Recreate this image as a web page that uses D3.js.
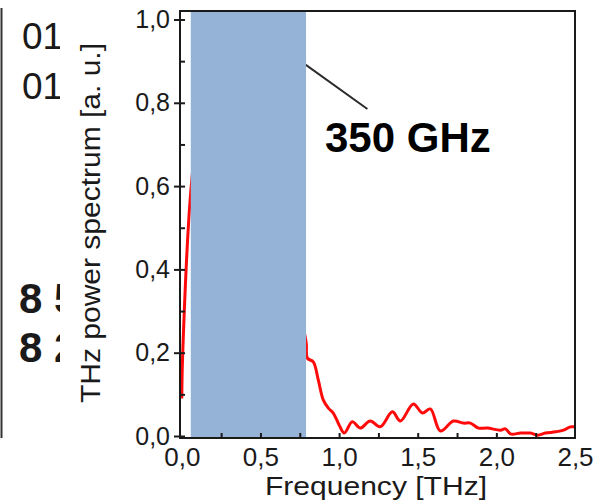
<!DOCTYPE html>
<html lang="en">

<head>
    <meta charset="UTF-8">
    <title>THz power spectrum</title>
    <script src="https://d3js.org/d3.v7.min.js"></script>
    <style>
        body { margin: 0; background: #fff; }
        svg text { font-family: "Liberation Sans", Arial, sans-serif; fill: #1a1a1a; }
        .axis path { display: none; }
        .axis line { stroke: #1a1a1a; stroke-width: 2px; }
    </style>
</head>

<body>
    <script>
        // spectrum (part under the blue band is a guess, it is hidden)
        var freq = [0.0, 0.005, 0.06, 0.12, 0.2, 0.35, 0.5, 0.65, 0.75, 0.791, 0.798, 0.836, 0.868, 0.9, 0.932,
            0.963, 1.001, 1.033, 1.084, 1.135, 1.198, 1.262, 1.339, 1.39, 1.472, 1.53, 1.58, 1.644,
            1.727, 1.791, 1.835, 1.886, 1.943, 2.026, 2.058, 2.09, 2.154, 2.217, 2.262, 2.312, 2.376,
            2.427, 2.471, 2.5];
        var power = [0.09, 0.19, 0.6, 0.78, 0.9, 1.0, 0.82, 0.5, 0.3, 0.223, 0.187, 0.178, 0.134, 0.086, 0.067,
            0.055, 0.026, 0.007, 0.034, 0.019, 0.036, 0.022, 0.058, 0.036, 0.077, 0.055, 0.065, 0.012,
            0.036, 0.031, 0.031, 0.019, 0.019, 0.014, 0.017, 0.005, 0.007, 0.007, 0.002, 0.007, 0.01,
            0.014, 0.022, 0.022];

        var xTicks = [0, 0.5, 1.0, 1.5, 2.0, 2.5];
        var xTickLabels = ["0,0", "0,5", "1,0", "1,5", "2,0", "2,5"];
        var xMinor = [0.25, 0.75, 1.25, 1.75, 2.25];
        var yTicks = [0, 0.2, 0.4, 0.6, 0.8, 1.0];
        var yTickLabels = ["0,0", "0,2", "0,4", "0,6", "0,8", "1,0"];
        var yMinor = [0.1, 0.3, 0.5, 0.7, 0.9];

        // shaded band and the 350 GHz pointer
        var band = [0.057, 0.79];
        var pointer = [[0.7, 0.915], [1.18, 0.785]];

        var W = 606, H = 504;
        var svg = d3.select("body").append("svg")
            .attr("width", W)
            .attr("height", H);

        var x = d3.scaleLinear().domain([-0.0115, 2.5]).range([180, 575]);
        var y = d3.scaleLinear().domain([-0.0048, 1.0204]).range([438, 11]);

        // cropped neighbour panel on the left
        svg.append("clipPath").attr("id", "leftclip")
            .append("rect").attr("x", 0).attr("y", 0).attr("width", 60).attr("height", H);
        var left = svg.append("g").attr("clip-path", "url(#leftclip)");
        left.append("line")
            .attr("x1", 1.5).attr("x2", 1.5).attr("y1", 8).attr("y2", 438)
            .attr("stroke", "#333").attr("stroke-width", 2);
        left.append("text").attr("x", 22).attr("y", 49).style("font-size", "37px").text("01");
        left.append("text").attr("x", 22).attr("y", 99).style("font-size", "37px").text("01");
        left.append("text").attr("x", 19).attr("y", 313).style("font-size", "42px").style("font-weight", "bold").text("8 5");
        left.append("text").attr("x", 19).attr("y", 362).style("font-size", "42px").style("font-weight", "bold").text("8 2");

        // spectrum line
        var line = d3.line()
            .x(function (d) { return x(d[0]); })
            .y(function (d) { return y(d[1]); })
            .curve(d3.curveCatmullRom.alpha(0.5));

        svg.append("path")
            .datum(freq.map(function (f, i) { return [f, power[i]]; }))
            .attr("d", line)
            .attr("fill", "none")
            .attr("stroke", "#ff0a0a")
            .attr("stroke-width", 3)
            .attr("stroke-linejoin", "round");

        // pointer line (goes under the band)
        svg.append("line")
            .attr("x1", x(pointer[0][0])).attr("y1", y(pointer[0][1]))
            .attr("x2", x(pointer[1][0])).attr("y2", y(pointer[1][1]))
            .attr("stroke", "#2a2a2a")
            .attr("stroke-width", 2);

        svg.append("rect")
            .attr("x", x(band[0]))
            .attr("y", y.range()[1] + 1)
            .attr("width", x(band[1]) - x(band[0]))
            .attr("height", y.range()[0] - y.range()[1] - 2)
            .attr("fill", "#95b3d7");

        svg.append("text")
            .attr("x", 325).attr("y", 152)
            .style("font-size", "42px")
            .style("font-weight", "bold")
            .style("fill", "#000")
            .text("350 GHz");

        // axes
        var yAxis = svg.append("g").attr("class", "axis")
            .attr("transform", "translate(180,0)")
            .call(d3.axisLeft(y).tickValues(yTicks).tickSize(6).tickPadding(4)
                .tickFormat(function (d, i) { return yTickLabels[i]; }));
        yAxis.selectAll("text").style("font-size", "25px");

        svg.append("g").attr("class", "axis")
            .attr("transform", "translate(180,0)")
            .call(d3.axisRight(y).tickValues(yTicks.concat(yMinor)).tickSize(5).tickFormat(""));

        var xAxis = svg.append("g").attr("class", "axis")
            .attr("transform", "translate(0,438)")
            .call(d3.axisBottom(x).tickValues(xTicks).tickSize(0).tickPadding(10)
                .tickFormat(function (d, i) { return xTickLabels[i]; }));
        xAxis.selectAll("text").style("font-size", "26px");

        svg.append("g").attr("class", "axis")
            .attr("transform", "translate(0,438)")
            .call(d3.axisTop(x).tickValues(xTicks.slice(1, 5).concat(xMinor)).tickSize(5).tickFormat(""));

        // frame
        svg.append("rect")
            .attr("x", 180).attr("y", 11)
            .attr("width", 395).attr("height", 427)
            .attr("fill", "none")
            .attr("stroke", "#1a1a1a")
            .attr("stroke-width", 2);

        // axis titles
        svg.append("text")
            .attr("x", 376).attr("y", 495)
            .attr("text-anchor", "middle")
            .attr("textLength", 222)
            .attr("lengthAdjust", "spacingAndGlyphs")
            .style("font-size", "26px")
            .text("Frequency [THz]");

        svg.append("text")
            .attr("transform", "translate(100,223) rotate(-90)")
            .attr("text-anchor", "middle")
            .attr("textLength", 360)
            .attr("lengthAdjust", "spacingAndGlyphs")
            .style("font-size", "27px")
            .text("THz power spectrum [a. u.]");
    </script>
</body>
</html>
